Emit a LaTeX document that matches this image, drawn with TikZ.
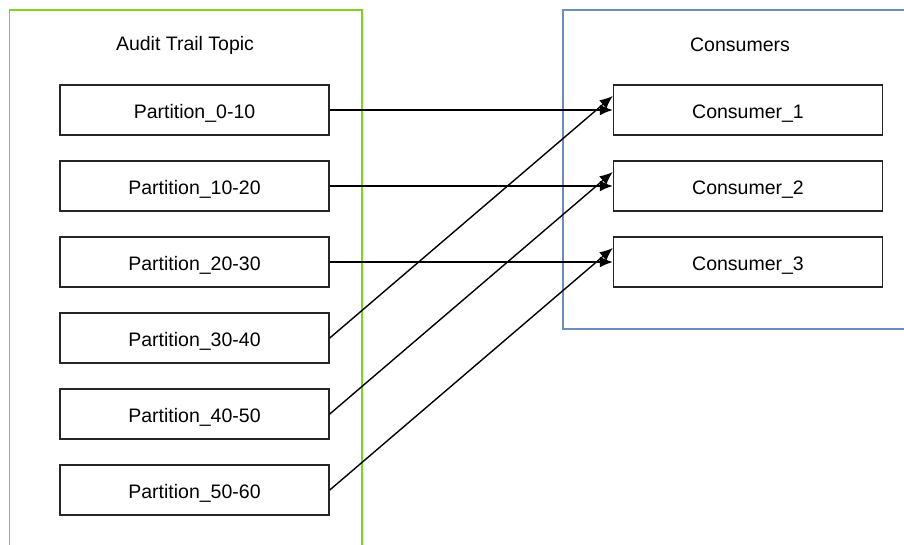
\documentclass[tikz,border=0pt]{standalone}
\usepackage{fontspec}
\setmainfont{Liberation Sans}
\usetikzlibrary{arrows.meta}
\definecolor{grn}{HTML}{7ED321}
\definecolor{blu}{HTML}{6C8EBF}
\begin{document}
\begin{tikzpicture}[x=1pt,y=-1pt,
  box/.style={draw=black!85,line width=1.5pt,minimum width=269pt,minimum height=50pt,inner sep=0pt,text height=19pt,text depth=3pt,font=\fontsize{19.5}{23}\selectfont},
  ttl/.style={font=\fontsize{19.5}{23}\selectfont,inner sep=0pt},
  arr/.style={line width=1.4pt,-{Latex[length=13pt,width=11pt]}}]
\useasboundingbox (0,0) rectangle (904,544);
\draw[grn,line width=1.6pt] (9.5,560) -- (9.5,10) -- (362,10) -- (362,560);
\draw[blu,line width=1.3pt] (920,329) -- (563,329) -- (563,10) -- (920,10);
\node[ttl] (t1) at (185,45) {Audit Trail Topic};
\node[ttl] (t2) at (740,45) {Consumers};
\node[box] (p1) at (194.5,110) {Partition\_0-10};
\node[box] (p2) at (194.5,186) {Partition\_10-20};
\node[box] (p3) at (194.5,262) {Partition\_20-30};
\node[box] (p4) at (194.5,338) {Partition\_30-40};
\node[box] (p5) at (194.5,414) {Partition\_40-50};
\node[box] (p6) at (194.5,490) {Partition\_50-60};
\node[box] (c1) at (748,110) {Consumer\_1};
\node[box] (c2) at (748,186) {Consumer\_2};
\node[box] (c3) at (748,262) {Consumer\_3};
\draw[arr] (p1.east) -- (c1.west);
\draw[arr] (p2.east) -- (c2.west);
\draw[arr] (p3.east) -- (c3.west);
\draw[arr] (p4.east) -- ([yshift=14pt]c1.west);
\draw[arr] (p5.east) -- ([yshift=14pt]c2.west);
\draw[arr] (p6.east) -- ([yshift=14pt]c3.west);
\end{tikzpicture}
\end{document}
